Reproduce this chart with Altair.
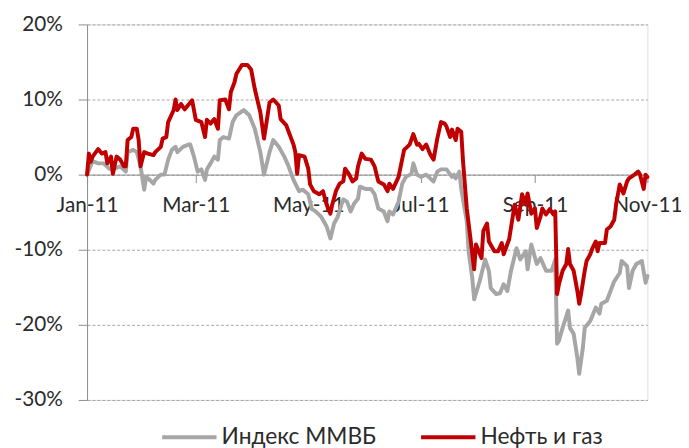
import altair as alt
import pandas as pd

# ---- data (day offsets from 2011-01-01, values in %) ----
red_days = [0, 1, 2, 3, 6, 8, 10, 11, 13, 14, 16, 18, 20, 21, 22, 24, 25, 27, 28, 29,
            31, 33, 36, 37, 40, 41, 43, 44, 47, 48, 49, 51, 53, 56, 57, 59, 62, 64, 65, 67,
            69, 71, 72, 75, 77, 78, 80, 81, 84, 87, 89, 91, 94, 96, 99, 101, 104, 105, 108, 112,
            113, 114, 115, 118, 120, 121, 123, 126, 128, 130, 132, 133, 135, 137, 139, 140, 142, 144, 146, 147,
            149, 151, 154, 156, 158, 161, 163, 164, 166, 169, 171, 172, 175, 177, 179, 180, 182, 184, 186, 188,
            190, 192, 194, 195, 197, 198, 200, 201, 203, 204, 206, 208, 210, 211, 214, 215, 217, 218, 221, 223,
            225, 226, 229, 231, 232, 234, 236, 238, 239, 241, 243, 244, 246, 247, 249, 251, 253, 254, 255, 256,
            258, 260, 261, 262, 264, 266, 267, 268, 270, 271, 273, 274, 276, 277, 278, 281, 282, 284, 286, 287,
            289, 291, 293, 294, 297, 299, 300, 302, 303, 304]
red_vals = [0.0, 2.8, 1.7, 2.4, 3.4, 2.8, 3.0, 1.5, 2.4, 0.1, 2.4, 2.0, 1.1, 1.1, 4.6, 5.0, 6.1, 6.1, 4.6, 1.1,
            3.0, 2.8, 2.6, 3.0, 3.7, 4.8, 5.0, 7.0, 8.6, 10.0, 8.6, 9.4, 8.7, 9.6, 9.9, 7.3, 7.0, 5.0, 7.3, 6.8,
            7.4, 6.1, 9.9, 10.0, 8.7, 11.0, 12.3, 13.4, 14.6, 14.6, 14.0, 11.4, 8.3, 4.8, 9.6, 10.0, 9.2, 7.4, 6.6, 4.0,
            3.0, 0.1, 2.6, 2.4, 0.8, -1.3, -2.2, -2.6, -2.2, -4.0, -5.2, -4.0, -2.2, -1.2, -0.9, 0.8, 0.1, -0.9, -0.5, 1.1,
            2.8, 2.1, 2.0, 1.1, -0.9, -1.3, -2.2, -1.2, -1.9, -0.3, 2.1, 3.3, 4.0, 5.4, 4.0, 4.1, 3.4, 4.0, 2.8, 2.0,
            4.8, 7.0, 6.8, 6.4, 5.0, 6.0, 4.6, 6.1, 5.7, 1.7, -4.5, -8.5, -12.6, -9.3, -11.1, -7.5, -6.5, -8.9, -10.2, -10.2,
            -9.1, -10.6, -8.6, -5.5, -4.0, -6.0, -2.6, -4.0, -2.5, -5.2, -4.5, -7.1, -5.6, -4.5, -5.3, -4.6, -5.3, -4.9, -15.9, -14.6,
            -12.8, -11.9, -9.9, -11.9, -12.8, -15.5, -17.2, -15.9, -12.8, -11.5, -10.6, -9.9, -8.9, -10.2, -9.1, -9.1, -7.3, -6.9, -6.0, -4.0,
            -1.3, -2.5, -0.9, -0.5, 0.0, 0.4, 0.0, -1.9, 0.0, -0.3]

gray_days = [0, 3, 6, 9, 12, 14, 18, 21, 22, 25, 27, 29, 31, 32, 34, 36, 37, 40, 42, 44,
             46, 48, 49, 52, 55, 56, 58, 60, 62, 64, 65, 67, 69, 71, 72, 74, 77, 79, 81, 85,
             88, 91, 94, 96, 99, 101, 104, 107, 109, 112, 115, 117, 120, 122, 124, 127, 130, 132, 134, 136,
             138, 139, 141, 143, 145, 147, 148, 151, 154, 156, 158, 161, 163, 164, 166, 169, 171, 173, 176, 177,
             179, 181, 184, 187, 188, 190, 192, 195, 198, 199, 200, 202, 203, 206, 207, 209, 210, 213, 214, 216,
             218, 219, 222, 224, 226, 228, 230, 231, 233, 235, 238, 239, 241, 244, 246, 249, 252, 254, 255, 256,
             258, 261, 262, 264, 266, 267, 269, 270, 273, 276, 278, 279, 282, 284, 286, 289, 290, 293, 294, 296,
             298, 301, 303, 304]
gray_vals = [0.0, 1.8, 1.5, 1.5, 0.8, 0.7, 1.1, 0.4, 3.0, 3.3, 3.0, 1.1, -2.0, -0.3, -0.7, -1.2, -0.7, 0.0, 0.0, 2.0,
             3.3, 3.7, 3.0, 3.7, 4.0, 4.0, 2.4, 0.4, 0.7, -0.7, 0.7, 1.5, 2.4, 2.0, 4.6, 5.0, 4.8, 7.0, 7.9, 8.6,
             7.9, 6.1, 3.0, 0.0, 3.0, 4.6, 3.7, 2.4, 1.3, -0.7, -2.2, -2.0, -2.6, -4.6, -4.9, -5.6, -6.9, -8.5, -6.5, -5.6,
             -4.0, -3.3, -3.6, -4.9, -3.8, -3.2, -1.6, -1.9, -1.9, -2.6, -4.5, -4.9, -6.2, -4.9, -5.3, -3.6, -1.2, -0.3, 0.1, 1.5,
             0.0, -0.3, 0.0, -0.7, -0.9, 0.4, 0.7, 0.7, -0.3, 0.0, -0.5, 0.4, -1.9, -6.2, -10.2, -13.8, -16.6, -14.2, -13.2, -11.3,
             -12.8, -15.1, -15.9, -15.8, -14.6, -15.5, -12.8, -11.8, -9.8, -11.3, -10.2, -12.6, -9.3, -11.9, -11.1, -12.8, -12.8, -11.3, -22.5, -22.1,
             -20.4, -18.1, -20.4, -21.2, -24.4, -26.5, -23.0, -20.4, -19.5, -17.7, -18.5, -17.2, -16.8, -15.5, -14.2, -13.1, -11.5, -12.2, -15.1, -12.8,
             -11.9, -11.5, -14.4, -13.5]

series_names = ["Индекс ММВБ", "Нефть и газ"]
series_colors = ["#A6A6A6", "#C00000"]
y_ticks = [-30, -20, -10, 0, 10, 20]
x_tick_months = [1, 3, 5, 7, 9, 11]

base_date = pd.Timestamp("2011-01-01")


def frame(days, vals, name):
    return pd.DataFrame({
        "date": [(base_date + pd.Timedelta(days=d)).strftime("%Y-%m-%d") for d in days],
        "value": vals,
        "series": name,
    })


gray_df = frame(gray_days, gray_vals, series_names[0])
red_df = frame(red_days, red_vals, series_names[1])

FONT = "Lato"
TEXT = "#2b2b2b"
AXIS_GRAY = "#8C8C8C"

x_enc = alt.X(
    "date:T",
    scale=alt.Scale(
        type="utc",
        domain=[alt.DateTime(year=2011, month=1, date=1, utc=True),
                alt.DateTime(year=2011, month=11, date=1, utc=True)],
    ),
    axis=alt.Axis(
        title=None,
        values=[alt.DateTime(year=2011, month=m, date=1, utc=True) for m in x_tick_months],
        format="%b-%y",
        offset=-228,
        grid=False,
        domainColor=AXIS_GRAY,
        tickColor=AXIS_GRAY,
        tickSize=8,
        labelPadding=12,
        labelFontSize=21,
        labelFont=FONT,
        labelColor=TEXT,
        labelAngle=0,
        labelFlush=False,
        labelOverlap=False,
    ),
)

y_enc = alt.Y(
    "value:Q",
    scale=alt.Scale(domain=[-30, 20], nice=False, zero=False),
    axis=alt.Axis(
        title=None,
        values=y_ticks,
        labelExpr="datum.value + '%'",
        gridDash=[3, 2],
        gridColor="#A6A6A6",
        domainColor=AXIS_GRAY,
        tickColor=AXIS_GRAY,
        tickSize=9,
        labelPadding=16,
        labelFontSize=21,
        labelFont=FONT,
        labelColor=TEXT,
    ),
)

color_enc = alt.Color(
    "series:N",
    scale=alt.Scale(domain=series_names, range=series_colors),
    legend=alt.Legend(
        title=None,
        orient="none",
        legendX=74,
        legendY=388,
        direction="horizontal",
        symbolType="stroke",
        symbolSize=3025,
        symbolStrokeWidth=4,
        labelFontSize=23,
        labelFont=FONT,
        labelColor=TEXT,
        labelOffset=3,
        columnPadding=37,
        padding=0,
    ),
)

line_style = dict(strokeWidth=4, strokeJoin="round", strokeCap="round")

gray_line = alt.Chart(gray_df).mark_line(**line_style).encode(x=x_enc, y=y_enc, color=color_enc)
red_line = alt.Chart(red_df).mark_line(**line_style).encode(x=x_enc, y=y_enc, color=color_enc)

chart = (
    alt.layer(gray_line, red_line)
    .properties(
        width=567,
        height=380,
        autosize=alt.AutoSizeParams(type="none"),
        padding={"left": 80, "top": 14, "right": 34, "bottom": 46},
    )
    .configure_view(stroke=None)
    .configure(background="white")
)

chart.save("out.html", embed_options={"renderer": "svg", "actions": False})
